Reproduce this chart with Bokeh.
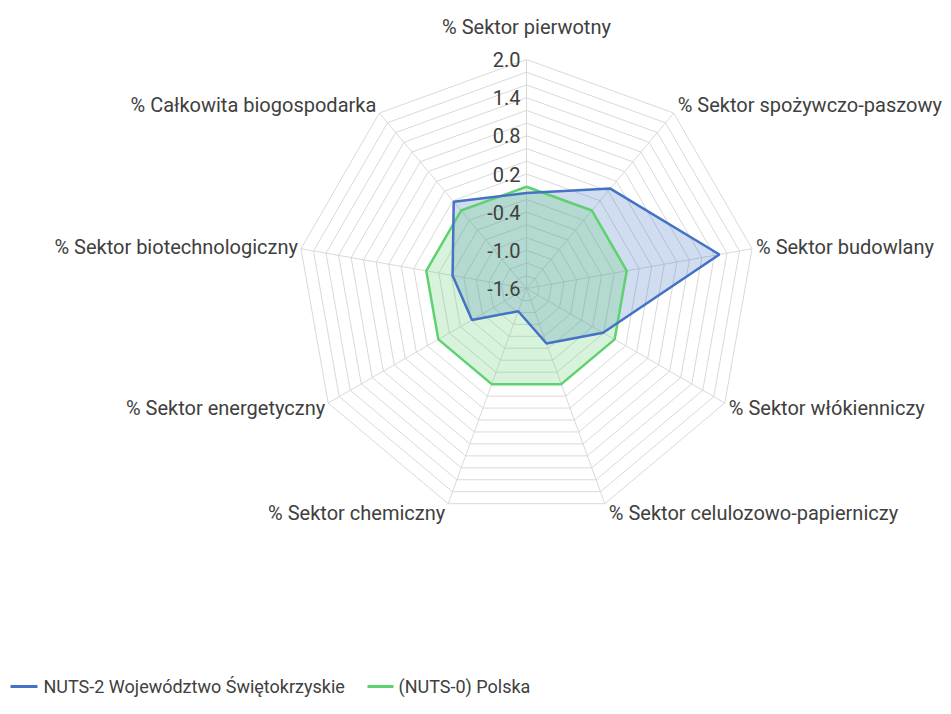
import numpy as np
from bokeh.plotting import figure
from bokeh.models import Range1d
from bokeh.core.properties import value
from bokeh.embed import file_html
from bokeh.resources import INLINE

# ---- data ----
categories = [
    "% Sektor pierwotny",
    "% Sektor spożywczo-paszowy",
    "% Sektor budowlany",
    "% Sektor włókienniczy",
    "% Sektor celulozowo-papierniczy",
    "% Sektor chemiczny",
    "% Sektor energetyczny",
    "% Sektor biotechnologiczny",
    "% Całkowita biogospodarka",
]
swietokrzyskie = [-0.10, 0.45, 1.48, -0.21, -0.68, -1.22, -0.61, -0.42, 0.18]
polska = [0.0, 0.0, 0.0, 0.0, 0.0, 0.0, 0.0, 0.0, 0.0]
tick_values = [2.0, 1.4, 0.8, 0.2, -0.4, -1.0, -1.6]
tick_labels = ["2.0", "1.4", "0.8", "0.2", "-0.4", "-1.0", "-1.6"]
series_names = ["NUTS-2 Województwo Świętokrzyskie", "(NUTS-0) Polska"]
axis_min, axis_max, minor_step = -1.6, 2.0, 0.2

# ---- layout ----
W, H = 951, 712
CX, CY = 526, 288          # centre of radar in figure pixels
R = 229.0                  # radius of outer ring in pixels
FONT = value("Roboto")
TXT = "#404040"
GRID = "#d9d9d9"
BLUE = "#4472c4"
GREEN = "#5fd16e"

n = len(categories)
theta = np.arange(n) * 2 * np.pi / n


def rad(v):
    return (np.asarray(v, dtype=float) - axis_min) / (axis_max - axis_min) * R


def xy(vals):
    r = rad(vals)
    return r * np.sin(theta), r * np.cos(theta)


p = figure(width=W, height=H, output_backend="svg", toolbar_location=None,
           x_range=Range1d(-CX, W - CX), y_range=Range1d(-(H - CY), CY),
           min_border=0)
p.axis.visible = False
p.grid.visible = False
p.outline_line_color = None
p.background_fill_color = "white"

# rings
levels = np.round(np.arange(axis_min + minor_step, axis_max + 1e-9, minor_step), 4)
for lv in levels:
    rx, ry = xy([lv] * n)
    p.line(list(rx) + [rx[0]], list(ry) + [ry[0]], line_color=GRID, line_width=1)
# spokes
ox, oy = xy([axis_max] * n)
p.segment(x0=np.zeros(n), y0=np.zeros(n), x1=ox, y1=oy, line_color=GRID, line_width=1)

# series
bx, by = xy(swietokrzyskie)
gx, gy = xy(polska)
p.patch(list(bx), list(by), fill_color=BLUE, fill_alpha=0.25, line_color=None)
p.patch(list(gx), list(gy), fill_color=GREEN, fill_alpha=0.25, line_color=None)
p.line(list(gx) + [gx[0]], list(gy) + [gy[0]], line_color=GREEN, line_width=2.5)
p.line(list(bx) + [bx[0]], list(by) + [by[0]], line_color=BLUE, line_width=2.5)

# tick labels
p.text(x=[-6] * len(tick_values), y=list(rad(tick_values)), text=tick_labels,
       text_font=FONT, text_font_size="20px", text_color=TXT,
       text_align="right", text_baseline="middle")

# category labels
for i, c in enumerate(categories):
    vx, vy = R * np.sin(theta[i]), R * np.cos(theta[i])
    s = np.sin(theta[i])
    if abs(s) < 1e-6:
        lx, ly, al = 0.0, R + 33, "center"
    elif s > 0:
        lx, ly, al = vx + 4, vy + 10 * np.cos(theta[i]), "left"
    else:
        lx, ly, al = vx - 3, vy + 10 * np.cos(theta[i]), "right"
    p.text(x=[lx], y=[ly], text=[c], text_font=FONT, text_font_size="20px",
           text_color=TXT, text_align=al, text_baseline="middle")

# legend (drawn manually)
ly = CY - 686
p.segment(x0=[10 - CX, 367 - CX], y0=[ly, ly], x1=[37 - CX, 393 - CX],
          y1=[ly, ly], line_color=[BLUE, GREEN], line_width=3)
p.text(x=[43 - CX, 398 - CX], y=[ly, ly], text=series_names, text_font=FONT,
       text_font_size="18px", text_color=TXT, text_align="left", text_baseline="middle")

open("out.html", "w").write(file_html(p, INLINE))
